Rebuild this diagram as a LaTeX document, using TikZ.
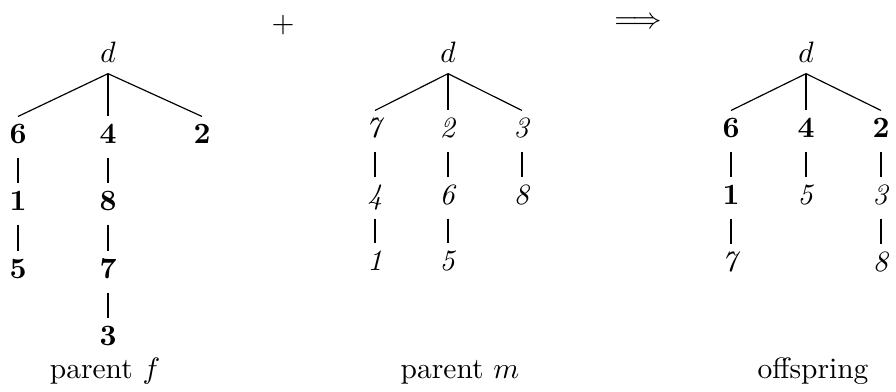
\documentclass[tikz,border=0pt]{standalone}
\usepackage{amsmath}
\tikzset{
  rootnode/.style={inner sep=0pt, anchor=base, text height=7pt, text depth=3.75pt},
  gene/.style={inner sep=0pt, anchor=base, text height=8.8pt, text depth=4.75pt},
  caption/.style={inner sep=0pt, anchor=base},
  branch/.style={line width=0.4pt},
}
\begin{document}
\begin{tikzpicture}[x=0.339pt, y=-0.339pt]
\useasboundingbox (0,0) rectangle (896,391);

% operators between the trees
\node[inner sep=0pt] (plus) at (283,25.5) {$+$};
\node[inner sep=0pt] (implies) at (638,23) {$\Longrightarrow$};

% parent f
\node[rootnode] (fd) at (108,62) {$d$};
\node[gene] (f6) at (18,143) {\textbf{6}};
\node[gene] (f4) at (108,143) {\textbf{4}};
\node[gene] (f2) at (202,143) {\textbf{2}};
\node[gene] (f1) at (18,210) {\textbf{1}};
\node[gene] (f8) at (108,210) {\textbf{8}};
\node[gene] (f5) at (18,278) {\textbf{5}};
\node[gene] (f7) at (108,278) {\textbf{7}};
\node[gene] (f3) at (108,345) {\textbf{3}};
\draw[branch] (fd.south) -- (f6.north);
\draw[branch] (fd.south) -- (f4.north);
\draw[branch] (fd.south) -- (f2.north);
\draw[branch] (f6.south) -- (f1.north);
\draw[branch] (f1.south) -- (f5.north);
\draw[branch] (f4.south) -- (f8.north);
\draw[branch] (f8.south) -- (f7.north);
\draw[branch] (f7.south) -- (f3.north);
\node[caption] (fcap) at (105,378) {parent $f$};

% parent m
\node[rootnode] (md) at (448,62) {$d$};
\node[gene] (m7) at (375,137) {\textit{7}};
\node[gene] (m2) at (448,137) {\textit{2}};
\node[gene] (m3) at (522,137) {\textit{3}};
\node[gene] (m4) at (375,204) {\textit{4}};
\node[gene] (m6) at (448,204) {\textit{6}};
\node[gene] (m8) at (522,204) {\textit{8}};
\node[gene] (m1) at (375,270) {\textit{1}};
\node[gene] (m5) at (448,270) {\textit{5}};
\draw[branch] (md.south) -- (m7.north);
\draw[branch] (md.south) -- (m2.north);
\draw[branch] (md.south) -- (m3.north);
\draw[branch] (m7.south) -- (m4.north);
\draw[branch] (m4.south) -- (m1.north);
\draw[branch] (m2.south) -- (m6.north);
\draw[branch] (m6.south) -- (m5.north);
\draw[branch] (m3.south) -- (m8.north);
\node[caption] (mcap) at (460,378) {parent $m$};

% offspring
\node[rootnode] (od) at (806,62) {$d$};
\node[gene] (o6) at (731,137) {\textbf{6}};
\node[gene] (o4) at (806,137) {\textbf{4}};
\node[gene] (o2) at (881,137) {\textbf{2}};
\node[gene] (o1) at (731,204) {\textbf{1}};
\node[gene] (o5) at (806,204) {\textit{5}};
\node[gene] (o3) at (881,204) {\textit{3}};
\node[gene] (o7) at (731,271) {\textit{7}};
\node[gene] (o8) at (881,271) {\textit{8}};
\draw[branch] (od.south) -- (o6.north);
\draw[branch] (od.south) -- (o4.north);
\draw[branch] (od.south) -- (o2.north);
\draw[branch] (o6.south) -- (o1.north);
\draw[branch] (o1.south) -- (o7.north);
\draw[branch] (o4.south) -- (o5.north);
\draw[branch] (o2.south) -- (o3.north);
\draw[branch] (o3.south) -- (o8.north);
\node[caption] (ocap) at (813,378) {offspring};
\end{tikzpicture}
\end{document}
